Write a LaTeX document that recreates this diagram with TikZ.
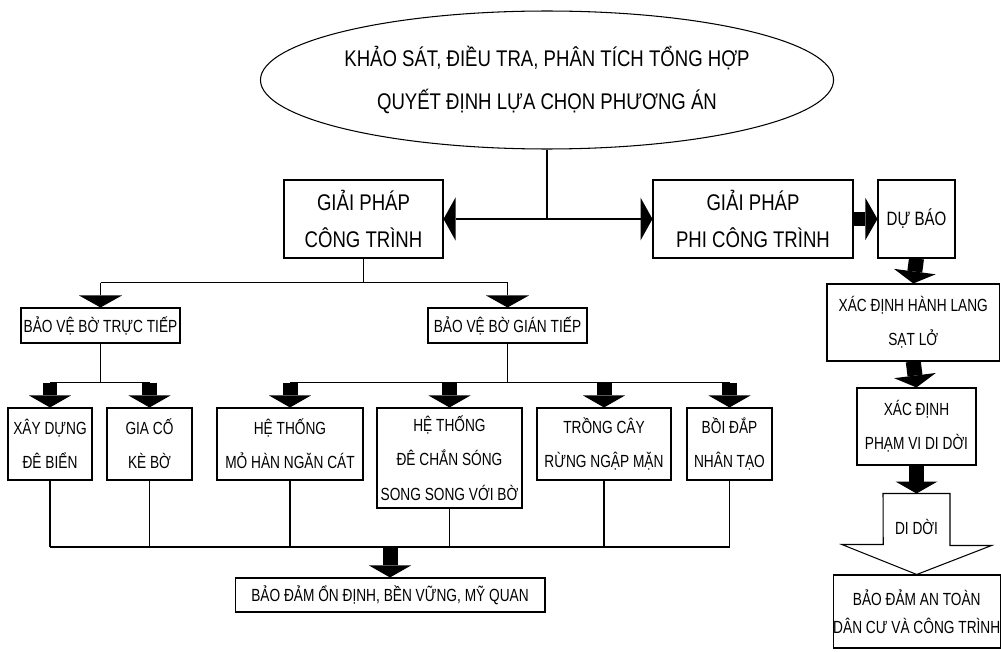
\documentclass[tikz,border=0pt]{standalone}
\usepackage{fontspec}
\setmainfont{Liberation Sans}[FakeStretch=0.82]
\newfontfamily\narrowfont{Liberation Sans}[FakeStretch=0.78]
\usetikzlibrary{arrows.meta,positioning,calc,shapes.geometric}
\tikzset{
  box/.style={draw,line width=.6pt,align=center,inner sep=0pt,font=\narrowfont\fontsize{10}{19.5}\selectfont},
  bigbox/.style={box,font=\fontsize{12.9}{21}\selectfont},
  oval/.style={ellipse,draw,line width=.6pt,align=center,inner sep=0pt,font=\fontsize{12.9}{25}\selectfont},
  link/.style={draw,line width=.6pt},
  tipline/.style={link,-{Triangle[width=.86cm,length=.24cm,line width=0pt]}},
  blockflow/.style={draw,line width=.3cm,-{Triangle[width=.84cm,length=.24cm,line width=0pt]}},
  hollow/.style={draw,fill=white,line width=.6pt,line join=miter}
}
\begin{document}
\begin{tikzpicture}[x=.02cm,y=-.02cm]
  \fill[white] (0,0) rectangle (1001,652);
  \useasboundingbox (0,0) rectangle (1001,652);
  % top of the tree
  \node[oval,minimum width=9.8cm,minimum height=2.76cm] (survey) at (547,80) {KHẢO SÁT, ĐIỀU TRA, PHÂN TÍCH TỔNG HỢP\\QUYẾT ĐỊNH LỰA CHỌN PHƯƠNG ÁN};
  \node[bigbox,minimum width=3.18cm,minimum height=1.56cm] (works) at (363.5,219) {GIẢI PHÁP\\CÔNG TRÌNH};
  \node[bigbox,minimum width=4cm,minimum height=1.56cm] (nonworks) at (753,219) {GIẢI PHÁP\\PHI CÔNG TRÌNH};
  \coordinate (fork) at (survey.south |- works.east);
  \draw[link] (survey.south) -- (fork);
  \draw[tipline] (fork) -- (works.east);
  \draw[tipline] (fork) -- (nonworks.west);
  % non-structural branch
  \node[box,minimum width=1.54cm,minimum height=1.56cm,font=\narrowfont\fontsize{11}{19.5}\selectfont] (forecast) at (916.5,219) {DỰ BÁO};
  \node[box,minimum width=3.45cm,minimum height=1.54cm] (corridor) at (913.25,322.5) {XÁC ĐỊNH HÀNH LANG\\SẠT LỞ};
  \node[box,minimum width=2.38cm,minimum height=1.54cm] (extent) at (916.5,426.5) {XÁC ĐỊNH\\PHẠM VI DI DỜI};
  \node[box,minimum width=3.31cm,minimum height=1.46cm,font=\narrowfont\fontsize{10}{16}\selectfont] (safe) at (916.75,611.5) {BẢO ĐẢM AN TOÀN\\DÂN CƯ VÀ CÔNG TRÌNH};
  \draw[blockflow] (nonworks.east) -- (forecast.west);
  \draw[blockflow] (forecast.south) -- (corridor.north);
  \draw[blockflow] (corridor.south) -- (extent.north);
  \draw[blockflow] (extent.south) -- ++(0,28) coordinate (movetop);
  \draw[hollow] ($(movetop)+(-33.5,0)$) -- ++(67,0) -- ++(0,52) -- ++(41.5,0) -- (safe.north) -- ++(-75,-30) -- ++(41.5,0) -- cycle;
  \node[font=\narrowfont\fontsize{10}{19.5}\selectfont] (move) at ($(movetop)+(0,33)$) {DI DỜI};
  % structural branch
  \node[box,minimum width=3.18cm,minimum height=.7cm] (direct) at (100.5,325.5) {BẢO VỆ BỜ TRỰC TIẾP};
  \node[box,minimum width=3.18cm,minimum height=.7cm] (indirect) at (507.5,325.5) {BẢO VỆ BỜ GIÁN TIẾP};
  \draw[link] (works.south) -- ++(0,24) coordinate (wbus);
  \draw[link] (direct.north |- wbus) -- (indirect.north |- wbus);
  \draw[tipline] (direct.north |- wbus) -- (direct.north);
  \draw[tipline] (indirect.north |- wbus) -- (indirect.north);
  \node[box,minimum width=1.68cm,minimum height=1.44cm] (dyke) at (50,444) {XÂY DỰNG\\ĐÊ BIỂN};
  \node[box,minimum width=1.7cm,minimum height=1.44cm] (revet) at (149.5,444) {GIA CỐ\\KÈ BỜ};
  \node[box,minimum width=2.92cm,minimum height=1.44cm] (groyne) at (290,444) {HỆ THỐNG\\MỎ HÀN NGĂN CÁT};
  \node[box,minimum width=2.9cm,minimum height=2cm] (breakwater) at (449.5,458) {HỆ THỐNG\\ĐÊ CHẮN SÓNG\\SONG SONG VỚI BỜ};
  \node[box,minimum width=2.68cm,minimum height=1.44cm] (mangrove) at (604,444) {TRỒNG CÂY\\RỪNG NGẬP MẶN};
  \node[box,minimum width=1.7cm,minimum height=1.44cm] (nourish) at (729.5,444) {BỒI ĐẮP\\NHÂN TẠO};
  \draw[link] (direct.south) -- ++(0,39) coordinate (dbus);
  \draw[link] (dyke.north |- dbus) -- (revet.north |- dbus);
  \draw[link] (indirect.south) -- ++(0,39) coordinate (ibus);
  \draw[link] (groyne.north |- ibus) -- (nourish.north |- ibus);
  \draw[blockflow] (dyke.north |- dbus) -- (dyke.north);
  \draw[blockflow] (revet.north |- dbus) -- (revet.north);
  \foreach \n in {groyne,breakwater,mangrove,nourish}
    \draw[blockflow] (\n.north |- ibus) -- (\n.north);
  % common result
  \node[box,minimum width=6.2cm,minimum height=.68cm] (stable) at (390,595) {BẢO ĐẢM ỔN ĐỊNH, BỀN VỮNG, MỸ QUAN};
  \coordinate (lbus) at (0,547);
  \foreach \n in {dyke,revet,groyne,breakwater,mangrove,nourish}
    \draw[link] (\n.south) -- (\n.south |- lbus);
  \draw[link] (dyke.south |- lbus) -- (nourish.south |- lbus);
  \draw[blockflow] (stable.north |- lbus) -- (stable.north);
\end{tikzpicture}
\end{document}
